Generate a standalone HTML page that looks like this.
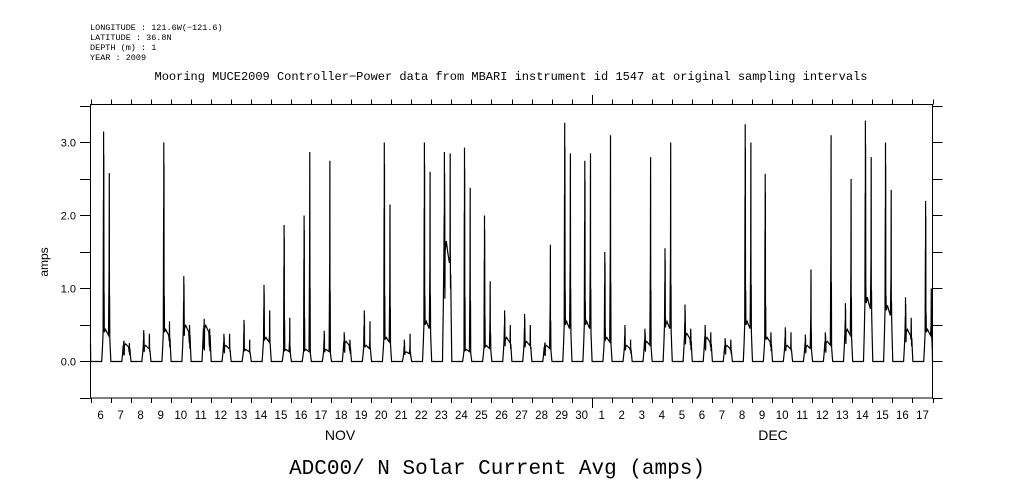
<!DOCTYPE html>
<html><head><meta charset="utf-8"><style>
body{margin:0;background:#fff}
svg{display:block;font-family:"Liberation Sans",sans-serif}
</style></head><body>
<svg id="chart" width="1009" height="504" viewBox="0 0 1009 504" xmlns="http://www.w3.org/2000/svg">
<g font-size="8.5" fill="#000" font-family="Liberation Mono, monospace">
<text x="90" y="30">LONGITUDE : 121.6W(−121.6)</text>
<text x="90" y="40">LATITUDE : 36.8N</text>
<text x="90" y="50">DEPTH (m) : 1</text>
<text x="90" y="60">YEAR : 2009</text>
</g>
<text x="511" y="80" text-anchor="middle" font-size="12" font-family="Liberation Mono, monospace">Mooring MUCE2009 Controller−Power data from MBARI instrument id 1547 at original sampling intervals</text>
<text x="497" y="474" text-anchor="middle" font-size="21" font-family="Liberation Mono, monospace">ADC00/ N Solar Current Avg (amps)</text>
<text transform="translate(48,262) rotate(-90)" text-anchor="middle" font-size="12">amps</text>
<rect x="90.5" y="104.5" width="842" height="293.5" fill="none" stroke="#000" stroke-width="1"/>
<g id="axes"></g>
<polyline id="series" fill="none" stroke="#000" stroke-width="1.2"/>
</svg>
<script>
const dayLabels = [6,7,8,9,10,11,12,13,14,15,16,17,18,19,20,21,22,23,24,25,26,27,28,29,30,1,2,3,4,5,6,7,8,9,10,11,12,13,14,15,16,17];
const humpLevel = [0.4,0.22,0.2,0.4,0.45,0.45,0.2,0.15,0.3,0.15,0.15,0.15,0.25,0.2,0.3,0.12,0.5,1.5,0.15,0.2,0.3,0.25,0.2,0.5,0.5,0.3,0.2,0.25,0.5,0.35,0.3,0.2,0.5,0.3,0.2,0.2,0.25,0.4,0.8,0.7,0.4,0.4];
const spikeA = [3.15,0.27,0.43,3.0,1.17,0.5,0.38,0.57,1.05,1.87,2.0,0.42,0.4,0.7,3.0,0.3,3.0,2.87,2.93,2.0,0.7,0.65,0.25,3.27,2.75,1.5,0.5,0.45,1.55,0.78,0.5,0.32,3.25,2.57,0.47,0.37,0.4,0.8,3.3,3.0,0.88,2.2];
const spikeB = [2.58,0.25,0.38,0.55,0.5,0.4,0.38,0.3,0.7,0.6,2.87,2.75,0.3,0.55,2.15,0.38,2.6,2.85,2.38,1.1,0.5,0.5,1.6,2.85,2.85,3.1,0.3,2.8,3.0,0.45,0.4,0.3,3.0,0.4,0.4,1.26,3.1,2.5,2.8,2.35,0.6,1.0];
const yTicks = [0,1,2,3];
const X0=90.5, X1=932.5, Y0=104.5, Y1=398;
const yMin=-0.5, yMax=3.52, nDays=42;
const xs = t => X0 + t/nDays*(X1-X0);
const ys = v => Y1 - (v-yMin)/(yMax-yMin)*(Y1-Y0);
const NS='http://www.w3.org/2000/svg';
const axes=document.getElementById('axes');
function mk(tag,attrs){const e=document.createElementNS(NS,tag);for(const k in attrs)e.setAttribute(k,attrs[k]);axes.appendChild(e);return e;}
for(let v=-0.5; v<=3.5001; v+=0.5){
  const y=Math.round(ys(v))+0.5;
  const l=mk('line',{x1:80,x2:X0,y1:y,y2:y,stroke:'#000'});
  
  
  const r=mk('line',{x1:X1,x2:X1+10,y1:y,y2:y,stroke:'#000'});
  
  
}
yTicks.forEach(v=>{
  const t=mk('text',{x:76,y:ys(v)+4,'text-anchor':'end','font-size':11});
  t.textContent=v.toFixed(1);
  
  
});
for(let d=0; d<=nDays; d++){
  const x=Math.round(xs(d))+0.5;
  const big = d===25;
  const b=mk('line',{x1:x,x2:x,y1:Y1,y2:Y1+5,stroke:'#000'});
  
  
  const t=mk('line',{x1:x,x2:x,y1:big?95:Y0-5,y2:Y0,stroke:'#000'});
  
  
  if(big){const bb=mk('line',{x1:x,x2:x,y1:Y1,y2:Y1+10,stroke:'#000'});
    
    }
}
dayLabels.forEach((lab,d)=>{
  const t=mk('text',{x:xs(d+0.5),y:419,'text-anchor':'middle','font-size':11.5});
  t.textContent=lab;
  
  
});
[['NOV',340],['DEC',773]].forEach(([m,x])=>{
  const t=mk('text',{x:x,y:440,'text-anchor':'middle','font-size':14});
  t.textContent=m;
  
  
});
const pts=[];
pts.push([0,0.25],[0.01,0]);
for(let d=0; d<nDays; d++){
  const L=humpLevel[d], A=spikeA[d], B=spikeB[d];
  const prof=[[0.56,0],[0.6,L*0.5],[0.63,L],[0.645,A*0.7],[0.65,A*0.35],[0.655,A],[0.66,A*0.5],[0.665,A*0.9],[0.672,L*1.3],[0.68,A*0.3],[0.69,L],[0.75,L*1.1],[0.82,L],[0.9,L*0.9],[0.93,B*0.5],[0.935,B*0.8],[0.94,B],[0.947,L],[0.955,B*0.35],[0.965,L*0.8],[0.99,L*0.4],[1.02,0]];
  prof.forEach(([f,v])=>pts.push([d+f,v]));
}
pts.push([nDays,0]);
document.getElementById('series').setAttribute('points',pts.filter(p=>p[0]<=nDays).map(p=>xs(p[0]).toFixed(1)+','+ys(p[1]).toFixed(1)).join(' '));
</script>
</body></html>
